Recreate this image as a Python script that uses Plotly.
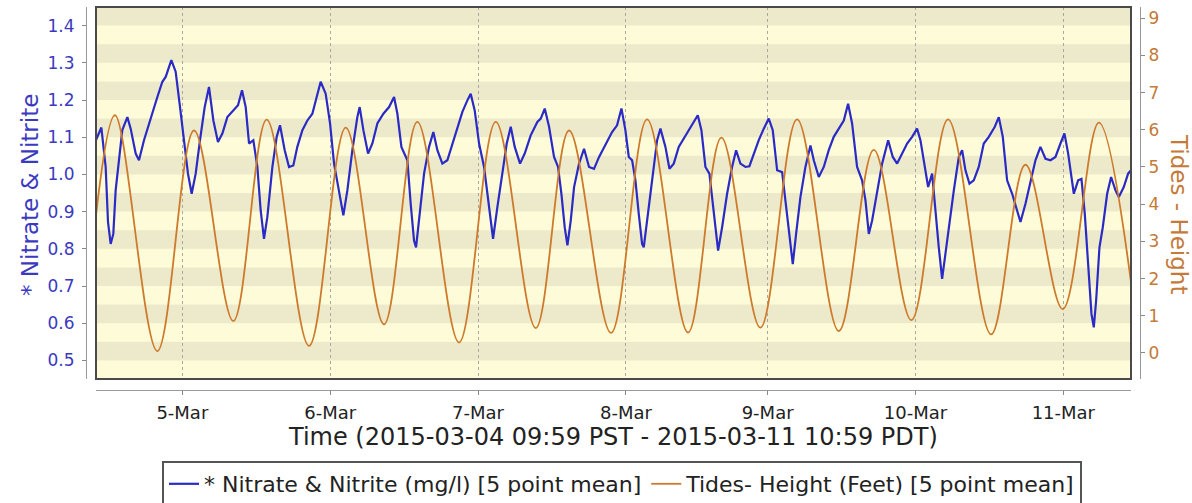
import pandas as pd
import plotly.graph_objects as go

# ---------------- data ----------------
# time axis: hours since 2015-03-04 09:59 PST (= 17:59 UTC)
START_UTC = "2015-03-04 17:59"
END_UTC = "2015-03-11 17:59"

nitrate_hours = [
    0.00, 0.87, 1.57, 1.95, 2.38, 2.81, 3.19, 3.73, 4.27, 5.09, 5.63, 6.44, 6.98, 7.79,
    8.60, 9.14, 9.96, 10.77, 11.31, 12.23, 12.93, 13.64, 14.29, 14.93, 15.53, 16.18,
    16.88, 17.64, 18.34, 19.05, 19.80, 20.51, 21.32, 22.13, 23.05, 23.70, 24.30, 24.84,
    25.54, 26.19, 26.73, 27.27, 27.81, 28.63, 29.33, 29.87, 30.63, 31.33, 32.03, 32.68,
    33.50, 34.31, 35.12, 35.82, 36.47, 37.28, 37.99, 38.64, 39.45, 40.15, 40.80, 41.61,
    42.42, 42.80, 43.40, 44.16, 44.86, 45.67, 46.65, 47.57, 48.38, 48.92, 49.57, 50.54,
    51.08, 51.62, 51.95, 52.60, 53.25, 54.06, 54.76, 55.41, 56.22, 57.03, 57.85, 58.66,
    59.47, 60.28, 60.82, 61.47, 62.18, 62.99, 63.80, 64.45, 65.15, 65.96, 66.67, 67.32,
    67.97, 68.83, 69.59, 70.56, 71.64, 72.19, 72.84, 73.54, 74.35, 75.00, 75.54, 76.08,
    76.52, 77.06, 77.60, 78.41, 79.22, 80.03, 80.84, 81.66, 82.47, 83.28,
    83.77, 84.58, 85.29, 85.93, 86.48, 87.02, 87.56, 88.10, 88.64, 88.91, 89.45, 89.99,
    90.53, 91.08, 91.62, 92.43, 93.08, 93.78, 94.59, 95.40, 96.22, 97.03, 97.68, 98.27,
    98.92, 99.57, 100.00, 100.54, 100.98, 101.63, 102.44, 103.25, 103.90, 104.60, 105.41,
    106.06, 106.77, 107.58, 108.39, 109.20, 109.85, 110.56, 111.37, 111.91, 112.56,
    113.10, 113.64, 114.34, 115.15, 115.97, 116.51, 117.32, 118.13, 118.94, 119.75,
    120.57, 121.38, 122.08, 122.73, 123.54, 124.35, 124.90, 125.44, 125.98, 126.79,
    127.60, 128.58, 129.33, 130.04, 130.85, 131.66, 132.47, 133.28, 133.82, 134.64,
    135.07, 135.72, 136.26, 136.80, 137.34, 137.88, 138.53, 139.24, 140.05, 140.59,
    141.13, 141.78, 142.48, 143.29, 144.10, 144.92, 145.89, 146.54, 147.19, 147.89,
    148.71, 149.35, 150.06, 150.87, 151.68, 152.49, 153.30, 154.12, 154.93, 155.74,
    156.55, 157.20, 157.80, 158.34, 158.72, 159.42, 159.96, 160.50, 161.04, 161.58,
    161.96, 162.34, 162.88, 163.42, 164.13, 164.77, 165.48, 166.02, 166.83, 167.53, 168.00,
]
nitrate_mgl = [
    1.092, 1.126, 1.020, 0.872, 0.813, 0.840, 0.957, 1.047, 1.119, 1.154, 1.123, 1.056, 1.038, 1.092,
    1.137, 1.168, 1.208, 1.249, 1.262, 1.307, 1.276, 1.181, 1.092, 1.002, 0.948, 1.002,
    1.092, 1.181, 1.235, 1.145, 1.087, 1.110, 1.154, 1.168, 1.186, 1.226, 1.181, 1.083,
    1.092, 1.020, 0.903, 0.827, 0.885, 1.020, 1.101, 1.132, 1.065, 1.020, 1.024, 1.074,
    1.119, 1.145, 1.163, 1.208, 1.249, 1.217, 1.137, 1.029, 0.948, 0.890, 0.957, 1.065,
    1.154, 1.181, 1.119, 1.056, 1.083, 1.137, 1.163, 1.181, 1.208, 1.163, 1.074, 1.038,
    0.921, 0.822, 0.804, 0.912, 1.002, 1.074, 1.114, 1.065, 1.029, 1.038, 1.083, 1.128,
    1.168, 1.199, 1.217, 1.172, 1.083, 1.020, 0.921, 0.827, 0.912, 1.002, 1.083, 1.128,
    1.074, 1.029, 1.056, 1.105, 1.141, 1.150, 1.177, 1.128, 1.047, 1.020, 0.948, 0.858,
    0.809, 0.876, 0.966, 1.029, 1.069, 1.020, 1.015, 1.047, 1.074, 1.101,
    1.114, 1.132, 1.177, 1.119, 1.047, 1.038, 0.984, 0.894, 0.813, 0.804, 0.876, 0.957,
    1.020, 1.092, 1.123, 1.074, 1.015, 1.029, 1.074, 1.096, 1.119, 1.141, 1.159, 1.119,
    1.020, 1.002, 0.939, 0.858, 0.795, 0.858, 0.948, 1.020, 1.065, 1.029, 1.020,
    1.022, 1.056, 1.092, 1.123, 1.150, 1.119, 1.011, 1.006, 0.930, 0.840,
    0.759, 0.840, 0.939, 1.020, 1.078, 1.038, 0.993, 1.020, 1.065, 1.101,
    1.123, 1.145, 1.190, 1.137, 1.020, 0.984, 0.930, 0.840, 0.876, 0.957,
    1.029, 1.092, 1.047, 1.029, 1.056, 1.083, 1.101, 1.123, 1.092, 1.002,
    0.966, 1.002, 0.894, 0.804, 0.719, 0.786, 0.876, 0.957, 1.047, 1.065,
    1.011, 0.975, 0.984, 1.020, 1.083, 1.101, 1.128, 1.154, 1.101, 0.984,
    0.948, 0.912, 0.872, 0.921, 0.984, 1.038, 1.074, 1.042, 1.038, 1.047,
    1.083, 1.110, 1.056, 0.984, 0.948, 0.984, 0.988, 0.894, 0.750, 0.625,
    0.589, 0.661, 0.804, 0.858, 0.948, 0.993, 0.957, 0.939, 0.966, 1.002, 1.011,
]

# tide highs / lows (feet)
tide_hours = [0.00, 3.08, 9.95, 15.91, 22.29, 27.71, 34.58, 40.54, 46.75, 52.16, 58.93,
              64.89, 71.38, 76.79, 83.60, 89.45, 96.10, 101.51, 107.84, 113.80, 120.57,
              126.25, 132.35, 138.31, 145.29, 150.86, 156.93, 162.78, 168.00]
tide_feet = [3.7, 6.39, 0.05, 5.98, 0.86, 6.27, 0.19, 6.06, 0.77, 6.21, 0.28,
             6.21, 0.67, 5.98, 0.54, 6.28, 0.55, 5.79, 0.68, 6.28, 0.59,
             5.46, 0.88, 6.28, 0.50, 5.06, 1.18, 6.19, 1.90]

# x tick labels (local midnights, given in UTC: PST = UTC-8, PDT = UTC-7 from 8-Mar)
tick_utc = ["2015-03-05 08:00", "2015-03-06 08:00", "2015-03-07 08:00", "2015-03-08 08:00",
            "2015-03-09 07:00", "2015-03-10 07:00", "2015-03-11 07:00"]
tick_text = ["5-Mar", "6-Mar", "7-Mar", "8-Mar", "9-Mar", "10-Mar", "11-Mar"]

left_ticks = [0.5, 0.6, 0.7, 0.8, 0.9, 1.0, 1.1, 1.2, 1.3, 1.4]
right_ticks = [0, 1, 2, 3, 4, 5, 6, 7, 8, 9]

# ---------------- figure ----------------
base = pd.Timestamp(START_UTC)
x_nit = [base + pd.Timedelta(hours=h) for h in nitrate_hours]
x_tide = [base + pd.Timedelta(hours=h) for h in tide_hours]

BLUE = "#2A2AC6"
ORANGE = "#CD7A2C"
FONT = "DejaVu Sans"

fig = go.Figure()
fig.add_trace(go.Scatter(
    x=x_nit, y=nitrate_mgl, mode="lines", name="* Nitrate & Nitrite (mg/l) [5 point mean]",
    line=dict(color=BLUE, width=2.2), yaxis="y"))
fig.add_trace(go.Scatter(
    x=x_tide, y=tide_feet, mode="lines", name="Tides- Height (Feet) [5 point mean]",
    line=dict(color=ORANGE, width=1.8, shape="spline", smoothing=1.0), yaxis="y2"))

W, H = 1192, 503
L_px, R_px, T_px, B_px = 86, 1140, 7, 390      # paper box
pw, ph = R_px - L_px, B_px - T_px
plot_l, plot_r, plot_b = 96, 1131, 379

shapes = []
# alternating bands
for v in left_ticks:
    shapes.append(dict(type="rect", xref="x domain", yref="y", x0=0, x1=1, y0=v, y1=v + 0.05,
                       fillcolor="#EDEACB", line_width=0, layer="below"))
# plot outline
shapes.append(dict(type="rect", xref="x domain", yref="y domain", x0=0, x1=1, y0=0, y1=1,
                   line=dict(color="#4A4A4A", width=2), layer="above"))

fig.update_layout(
    width=W, height=H,
    margin=dict(l=L_px, r=W - R_px, t=T_px, b=H - B_px, autoexpand=False),
    paper_bgcolor="white",
    plot_bgcolor="#FEFCD8",
    font=dict(family=FONT, color="#222"),
    showlegend=True,
    legend=dict(orientation="h", xref="container", yref="container",
                x=622 / W, y=1 - 461 / H, xanchor="center", yanchor="top",
                bordercolor="#555", borderwidth=2, bgcolor="white",
                font=dict(size=22, family=FONT, color="#222"),
                itemwidth=30, tracegroupgap=0),
    xaxis=dict(
        type="date",
        domain=[(plot_l - L_px) / pw, (plot_r - L_px) / pw],
        range=[START_UTC, END_UTC],
        anchor="free", position=0,
        tickmode="array", tickvals=tick_utc, ticktext=tick_text,
        ticks="outside", ticklen=4, tickcolor="#888",
        tickfont=dict(size=18, color="#222"),
        ticklabelstandoff=2,
        showline=True, linecolor="#999", linewidth=1,
        showgrid=True, gridcolor="#A8A8A0", griddash="dot", gridwidth=1,
        zeroline=False,
    ),
    yaxis=dict(
        domain=[(B_px - plot_b) / ph, 1],
        range=[0.45, 1.45],
        anchor="free", position=0,
        tickmode="array", tickvals=left_ticks, tickformat=".1f",
        ticks="outside", ticklen=4, tickcolor="#888",
        tickfont=dict(size=17, color="#3A3AC0"),
        ticklabelstandoff=4,
        showline=True, linecolor="#999", linewidth=1,
        showgrid=False, zeroline=False,
    ),
    yaxis2=dict(
        overlaying="y", side="right",
        range=[-0.7, 9.3],
        anchor="free", position=1,
        tickmode="array", tickvals=right_ticks,
        ticks="outside", ticklen=4, tickcolor="#888",
        tickfont=dict(size=17, color="#C47A38"),
        showline=True, linecolor="#999", linewidth=1,
        showgrid=False, zeroline=False,
    ),
    shapes=shapes,
    annotations=[
        dict(text="Time (2015-03-04 09:59 PST - 2015-03-11 10:59 PDT)", xref="paper", yref="paper",
             x=(613 - L_px) / pw, y=(B_px - 437) / ph, xanchor="center", yanchor="middle",
             showarrow=False, font=dict(size=24, color="#222", family=FONT)),
        dict(text="* Nitrate & Nitrite", xref="paper", yref="paper",
             x=(30 - L_px) / pw, y=(B_px - 195) / ph, xanchor="center", yanchor="middle",
             textangle=-90, showarrow=False, font=dict(size=23, color="#3A3AC0", family=FONT)),
        dict(text="Tides - Height", xref="paper", yref="paper",
             x=(1179 - L_px) / pw, y=(B_px - 214) / ph, xanchor="center", yanchor="middle",
             textangle=90, showarrow=False, font=dict(size=23, color="#C47A38", family=FONT)),
    ],
)

fig.write_html("out.html", config={"displayModeBar": False},
               post_script="document.body.style.margin='0px';")
